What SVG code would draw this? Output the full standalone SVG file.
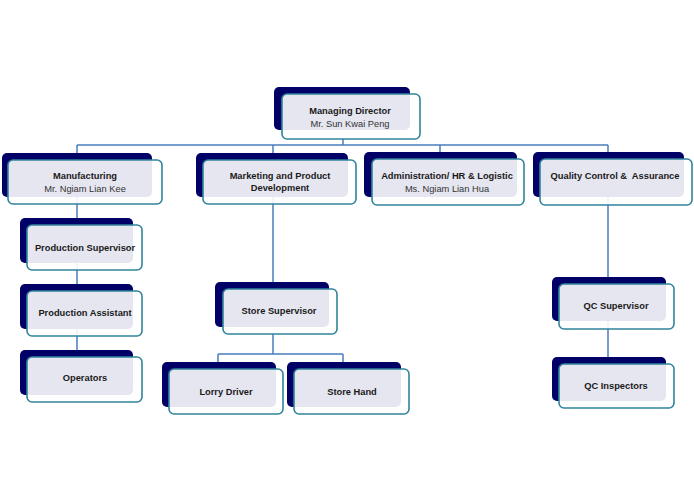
<svg xmlns="http://www.w3.org/2000/svg" width="694" height="489" viewBox="0 0 694 489">
<style>
.bk{fill:#000066}
.fr{fill:#ffffff;fill-opacity:0.9;stroke:#31849B;stroke-width:1.6}
.t{font-family:"Liberation Sans",Arial,sans-serif;font-size:9.3px;font-weight:bold;fill:#1a1a1a;text-anchor:middle}
.n{font-family:"Liberation Sans",Arial,sans-serif;font-size:9.3px;fill:#333333;text-anchor:middle}
.ln{stroke:#4A7EBB;stroke-width:1.5;fill:none}
</style>
<rect width="694" height="489" fill="#ffffff"/>
<g id="connectors">
<path class="ln" d="M343 139V145M77 145H608M77 145V357M273 145V289M440 145V159M608 145V364"/>
<path class="ln" d="M273 334V354M218 354H343M218 354V369M343 354V369"/>
</g>
<g id="managing-director">
<rect class="bk" x="274" y="87" width="136" height="43" rx="5"/>
<rect class="fr" x="282" y="94" width="138" height="45" rx="5"/>
<text class="t" x="350" y="114">Managing Director</text>
<text class="n" x="350" y="127">Mr. Sun Kwai Peng</text>
</g>
<g id="manufacturing">
<rect class="bk" x="2" y="153" width="150" height="44" rx="5"/>
<rect class="fr" x="8" y="160" width="154" height="44" rx="5"/>
<text class="t" x="85" y="179">Manufacturing</text>
<text class="n" x="85" y="192">Mr. Ngiam Lian Kee</text>
</g>
<g id="marketing">
<rect class="bk" x="196" y="153" width="152" height="44" rx="5"/>
<rect class="fr" x="203" y="160" width="153" height="44" rx="5"/>
<text class="t" x="280" y="179">Marketing and Product</text>
<text class="t" x="280" y="191">Development</text>
</g>
<g id="administration">
<rect class="bk" x="364" y="152" width="153" height="45" rx="5"/>
<rect class="fr" x="372" y="159" width="152" height="46" rx="5"/>
<text class="t" x="447" y="179">Administration/ HR &amp; Logistic</text>
<text class="n" x="447" y="192">Ms. Ngiam Lian Hua</text>
</g>
<g id="quality-control">
<rect class="bk" x="533" y="152" width="151" height="45" rx="5"/>
<rect class="fr" x="540" y="159" width="152" height="46" rx="5"/>
<text class="t" x="615" y="179">Quality Control &amp;&#160; Assurance</text>
</g>
<g id="production-supervisor">
<rect class="bk" x="20" y="218" width="113" height="45" rx="5"/>
<rect class="fr" x="27" y="225" width="115" height="45" rx="5"/>
<text class="t" x="85" y="251">Production Supervisor</text>
</g>
<g id="production-assistant">
<rect class="bk" x="20" y="284" width="113" height="45" rx="5"/>
<rect class="fr" x="27" y="291" width="115" height="45" rx="5"/>
<text class="t" x="85" y="316">Production Assistant</text>
</g>
<g id="operators">
<rect class="bk" x="20" y="350" width="113" height="45" rx="5"/>
<rect class="fr" x="27" y="357" width="115" height="45" rx="5"/>
<text class="t" x="85" y="381">Operators</text>
</g>
<g id="store-supervisor">
<rect class="bk" x="215" y="282" width="114" height="45" rx="5"/>
<rect class="fr" x="223" y="289" width="114" height="45" rx="5"/>
<text class="t" x="279" y="314">Store Supervisor</text>
</g>
<g id="lorry-driver">
<rect class="bk" x="162" y="362" width="114" height="45" rx="5"/>
<rect class="fr" x="169" y="369" width="114" height="45" rx="5"/>
<text class="t" x="226" y="395">Lorry Driver</text>
</g>
<g id="store-hand">
<rect class="bk" x="287" y="362" width="114" height="45" rx="5"/>
<rect class="fr" x="294" y="369" width="115" height="45" rx="5"/>
<text class="t" x="352" y="395">Store Hand</text>
</g>
<g id="qc-supervisor">
<rect class="bk" x="552" y="277" width="114" height="44" rx="5"/>
<rect class="fr" x="559" y="284" width="115" height="45" rx="5"/>
<text class="t" x="616" y="309">QC Supervisor</text>
</g>
<g id="qc-inspectors">
<rect class="bk" x="552" y="357" width="114" height="44" rx="5"/>
<rect class="fr" x="559" y="364" width="115" height="44" rx="5"/>
<text class="t" x="616" y="389">QC Inspectors</text>
</g>
</svg>
